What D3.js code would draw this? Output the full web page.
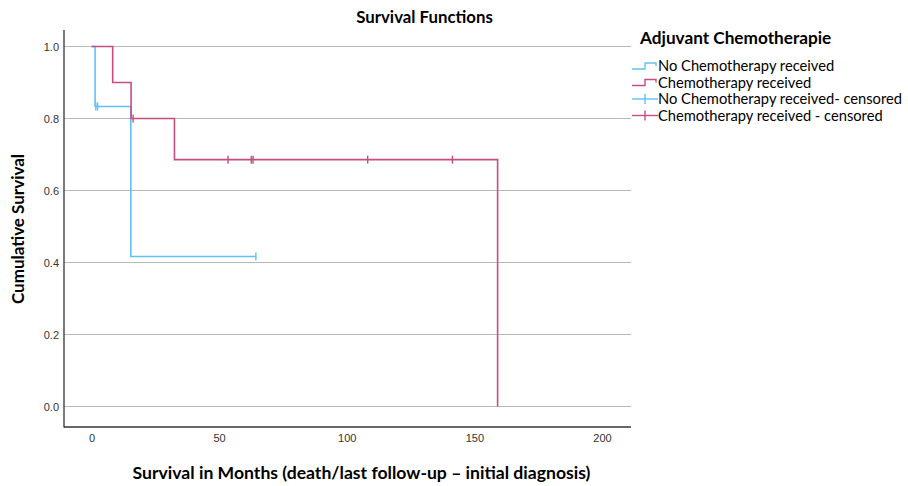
<!DOCTYPE html>
<html>
<head>
<meta charset="utf-8">
<script src="https://cdn.jsdelivr.net/npm/d3@7"></script>
<style>
  body { margin: 0; background: #fff; }
  svg { display: block; }
</style>
</head>
<body>
<svg id="chart" width="908" height="486"></svg>
<script>
// ---- Data ----
const groups = ["No Chemotherapy received", "Chemotherapy received"];
// Kaplan-Meier step points: [time (months), cumulative survival]
const noChemoSteps = [[0, 1.0], [1.4, 0.8333], [15.4, 0.4167], [64.4, 0.4167]];
const chemoSteps = [[0, 1.0], [8.3, 0.9], [15.5, 0.8], [32.5, 0.6857], [159.1, 0.0]];
// censored observations
const noChemoCensored = [[1.7, 0.8333], [2.4, 0.8333], [64.4, 0.4167]];
const chemoCensored = [[16.3, 0.8], [53.5, 0.6857], [62.6, 0.6857], [63.3, 0.6857], [108.2, 0.6857], [141.4, 0.6857]];
const xTicks = [0, 50, 100, 150, 200];
const yTicks = [0.0, 0.2, 0.4, 0.6, 0.8, 1.0];
const legendLabels = ["No Chemotherapy received", "Chemotherapy received",
  "No Chemotherapy received- censored", "Chemotherapy received - censored"];
const colors = { noChemo: "#62c0f8", chemo: "#c24f80" };

// ---- Layout ----
const svg = d3.select("#chart");
const frame = { left: 64, right: 631, top: 30, bottom: 427 };
const x = d3.scaleLinear().domain([0, 200]).range([91.5, 602]);
const y = d3.scaleLinear().domain([0, 1]).range([406.5, 46.5]);

// gridlines
svg.append("g").selectAll("line").data(yTicks).join("line")
  .attr("x1", frame.left).attr("x2", frame.right)
  .attr("y1", d => y(d)).attr("y2", d => y(d))
  .attr("stroke", "#b9b9b9").attr("stroke-width", 1);

// axes (no tick marks, domain drawn as frame)
const yAxis = svg.append("g").attr("transform", `translate(${frame.left},0)`)
  .call(d3.axisLeft(y).tickValues(yTicks).tickFormat(d3.format(".1f")).tickSize(0).tickPadding(5));
yAxis.select(".domain").remove();
yAxis.selectAll("text").attr("font-family", "Liberation Sans, Arial, sans-serif")
  .attr("font-size", 11).attr("fill", "#333");

const xAxis = svg.append("g").attr("transform", `translate(0,${frame.bottom})`)
  .call(d3.axisBottom(x).tickValues(xTicks).tickFormat(d3.format("d")).tickSize(0).tickPadding(7));
xAxis.select(".domain").remove();
xAxis.selectAll("text").attr("font-family", "Liberation Sans, Arial, sans-serif")
  .attr("font-size", 11).attr("fill", "#333");

// frame lines
svg.append("line").attr("x1", frame.left).attr("x2", frame.left)
  .attr("y1", frame.top).attr("y2", frame.bottom + 0.5)
  .attr("stroke", "#333").attr("stroke-width", 1.3);
svg.append("line").attr("x1", frame.left).attr("x2", frame.right)
  .attr("y1", frame.bottom).attr("y2", frame.bottom)
  .attr("stroke", "#333").attr("stroke-width", 1.3);

// curves
const line = d3.line().x(d => x(d[0])).y(d => y(d[1])).curve(d3.curveStepAfter);
const series = [
  { steps: noChemoSteps, cens: noChemoCensored, color: colors.noChemo },
  { steps: chemoSteps, cens: chemoCensored, color: colors.chemo }
];
series.forEach(s => {
  svg.append("path").attr("d", line(s.steps)).attr("fill", "none")
    .attr("stroke", s.color).attr("stroke-width", 1.6);
  svg.append("g").selectAll("line").data(s.cens).join("line")
    .attr("x1", d => x(d[0])).attr("x2", d => x(d[0]))
    .attr("y1", d => y(d[1]) - 4).attr("y2", d => y(d[1]) + 4)
    .attr("stroke", s.color).attr("stroke-width", 1.4);
});

// titles
svg.append("text").attr("x", 424.5).attr("y", 23).attr("text-anchor", "middle")
  .attr("font-family", "Lato, sans-serif").attr("font-weight", "bold").attr("font-size", 16.8)
  .attr("fill", "#000").text("Survival Functions");
svg.append("text").attr("x", 361.5).attr("y", 479).attr("text-anchor", "middle")
  .attr("font-family", "Lato, sans-serif").attr("font-weight", "bold").attr("font-size", 17.6)
  .attr("fill", "#000").text("Survival in Months (death/last follow-up \u2013 initial diagnosis)");
svg.append("text").attr("transform", "translate(24,229) rotate(-90)").attr("text-anchor", "middle")
  .attr("font-family", "Lato, sans-serif").attr("font-weight", "bold").attr("font-size", 17)
  .attr("fill", "#000").text("Cumulative Survival");

// legend
const lg = svg.append("g");
lg.append("text").attr("x", 640).attr("y", 44)
  .attr("font-family", "Lato, sans-serif").attr("font-weight", "bold").attr("font-size", 17.2)
  .attr("fill", "#000").text("Adjuvant Chemotherapie");
const legendColors = [colors.noChemo, colors.chemo, colors.noChemo, colors.chemo];
const rowY = [71, 87.5, 104, 120.5];
legendLabels.forEach((lab, i) => {
  const by = rowY[i];
  const c = legendColors[i];
  if (i < 2) {
    lg.append("path").attr("d", `M632,${by - 2}H645V${by - 8}H656V${by - 5}`)
      .attr("fill", "none").attr("stroke", c).attr("stroke-width", 1.4);
  } else {
    lg.append("line").attr("x1", 632).attr("x2", 658).attr("y1", by - 5).attr("y2", by - 5)
      .attr("stroke", c).attr("stroke-width", 1.4);
    lg.append("line").attr("x1", 645).attr("x2", 645).attr("y1", by - 10).attr("y2", by)
      .attr("stroke", c).attr("stroke-width", 1.4);
  }
  lg.append("text").attr("x", 658).attr("y", by)
    .attr("font-family", "Lato, sans-serif").attr("font-size", 14.7)
    .attr("fill", "#000").text(lab);
});
</script>
</body>
</html>
